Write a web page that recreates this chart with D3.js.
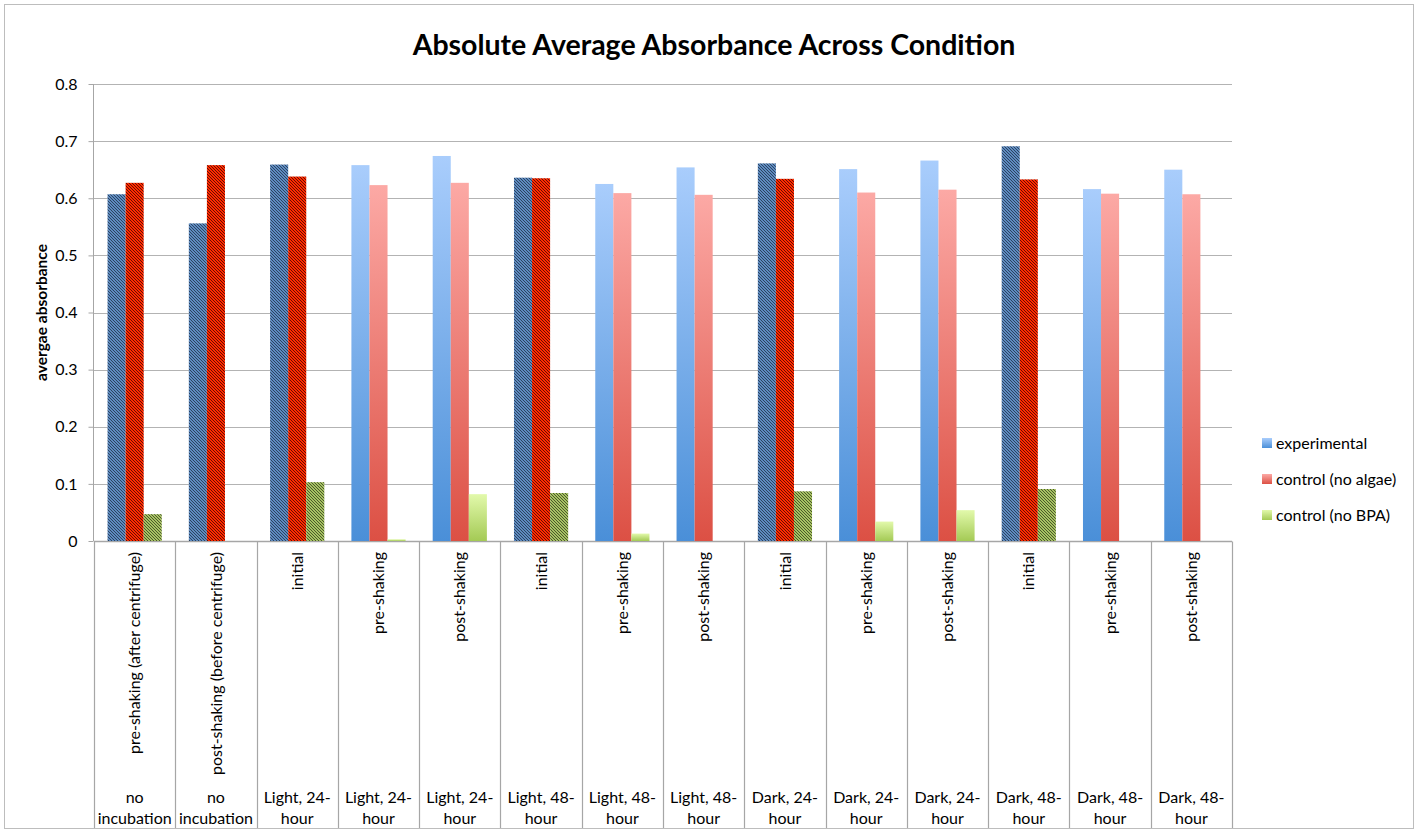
<!DOCTYPE html>
<html>
<head>
<meta charset="utf-8">
<script src="https://cdn.jsdelivr.net/npm/d3@7/dist/d3.min.js"></script>
<style>
  body { margin: 0; background: #fff; }
  svg { display: block; font-family: Lato, "Open Sans", sans-serif; }
</style>
</head>
<body>
<svg id="chart" width="1418" height="833"></svg>
<script>
// chart values
const innerLabels = ["pre-shaking (after centrifuge)", "post-shaking (before centrifuge)", "initial", "pre-shaking", "post-shaking",
  "initial", "pre-shaking", "post-shaking", "initial", "pre-shaking", "post-shaking", "initial", "pre-shaking", "post-shaking"];
const outerLabels = [["no", "incubation"], ["no", "incubation"],
  ["Light, 24-", "hour"], ["Light, 24-", "hour"], ["Light, 24-", "hour"],
  ["Light, 48-", "hour"], ["Light, 48-", "hour"], ["Light, 48-", "hour"],
  ["Dark, 24-", "hour"], ["Dark, 24-", "hour"], ["Dark, 24-", "hour"],
  ["Dark, 48-", "hour"], ["Dark, 48-", "hour"], ["Dark, 48-", "hour"]];
const seriesNames = ["experimental", "control (no algae)", "control (no BPA)"];
const experimental = [0.607, 0.556, 0.659, 0.658, 0.674, 0.636, 0.625, 0.654, 0.661, 0.651, 0.666, 0.691, 0.616, 0.650];
const controlNoAlgae = [0.627, 0.658, 0.638, 0.623, 0.627, 0.635, 0.609, 0.606, 0.634, 0.610, 0.615, 0.633, 0.608, 0.607];
const controlNoBPA = [0.047, null, 0.103, 0.003, 0.082, 0.084, 0.013, null, 0.087, 0.034, 0.054, 0.091, null, null];
const yTicks = [0, 0.1, 0.2, 0.3, 0.4, 0.5, 0.6, 0.7, 0.8];

const svg = d3.select("#chart");
const margin = { top: 84, right: 186, bottom: 292, left: 94 };
const width = 1418, height = 833;

// outer frame
svg.append("rect")
  .attr("x", 4.5).attr("y", 4.5)
  .attr("width", width - 9).attr("height", height - 9)
  .attr("fill", "#fff").attr("stroke", "#bdbdbd");

const x = d3.scaleBand()
  .domain(d3.range(innerLabels.length))
  .range([margin.left, width - margin.right]);

const x1 = d3.scaleBand()
  .domain(seriesNames)
  .range([0, x.bandwidth()])
  .paddingOuter(0.75);

const y = d3.scaleLinear()
  .domain([0, 0.8])
  .range([height - margin.bottom, margin.top]);

// fills: gradient and hatched versions
const defs = svg.append("defs");
const gradColors = [["#a9cdfc", "#4a8fd8"], ["#fca9a5", "#dc5044"], ["#e2f9ab", "#a4ca55"]];
const hatchColors = [["#5e8bc0", "#223650"], ["#ff2a00", "#4a0a00"], ["#a6c163", "#3a4620"]];
seriesNames.forEach((s, i) => {
  const g = defs.append("linearGradient")
    .attr("id", "grad" + i)
    .attr("x1", 0).attr("y1", 0).attr("x2", 0).attr("y2", 1);
  g.append("stop").attr("offset", "0%").attr("stop-color", gradColors[i][0]);
  g.append("stop").attr("offset", "100%").attr("stop-color", gradColors[i][1]);

  const p = defs.append("pattern")
    .attr("id", "hatch" + i)
    .attr("patternUnits", "userSpaceOnUse")
    .attr("width", 3).attr("height", 3);
  p.append("rect").attr("width", 3).attr("height", 3).attr("fill", hatchColors[i][0]);
  p.append("path")
    .attr("d", "M-1,-1 L4,4 M-1,2 L1,4 M2,-1 L4,1")
    .attr("stroke", hatchColors[i][1])
    .attr("stroke-width", 0.85);
});

// gridlines
svg.append("g")
  .selectAll("line")
  .data(yTicks.filter(d => d > 0))
  .join("line")
  .attr("x1", margin.left).attr("x2", width - margin.right)
  .attr("y1", d => Math.round(y(d)) + 0.5).attr("y2", d => Math.round(y(d)) + 0.5)
  .attr("stroke", "#b3b3b3").attr("stroke-width", 1.2);

// y axis
const yAxis = svg.append("g")
  .attr("transform", `translate(${margin.left - 0.5},0)`)
  .call(d3.axisLeft(y).tickValues(yTicks).tickSize(5).tickPadding(11).tickFormat(d => d === 0 ? "0" : d3.format(".1f")(d)));
yAxis.selectAll("path, line").attr("stroke", "#a6a6a6");
yAxis.select(".domain").attr("d", `M0,${y(0.8)}V${y(0)}`);
yAxis.selectAll("text").attr("font-size", 16).attr("fill", "#000").attr("font-family", "Lato, sans-serif");

svg.append("text")
  .attr("transform", `translate(42,${(y(0) + y(0.8)) / 2}) rotate(-90)`)
  .attr("text-anchor", "middle")
  .attr("dy", "0.35em")
  .attr("font-size", 15.5)
  .attr("font-weight", "bold")
  .text("avergae absorbance");

// x axis: baseline and long category dividers
const base = Math.round(y(0)) + 0.5;
svg.append("line")
  .attr("x1", margin.left).attr("x2", width - margin.right)
  .attr("y1", base).attr("y2", base)
  .attr("stroke", "#a6a6a6").attr("stroke-width", 1.5);
svg.append("g")
  .selectAll("line")
  .data(d3.range(innerLabels.length + 1))
  .join("line")
  .attr("x1", d => Math.round(d < innerLabels.length ? x(d) : x(d - 1) + x.bandwidth()) + 0.5)
  .attr("x2", d => Math.round(d < innerLabels.length ? x(d) : x(d - 1) + x.bandwidth()) + 0.5)
  .attr("y1", base).attr("y2", height - 5)
  .attr("stroke", "#a6a6a6").attr("stroke-width", 1.2);

// bars
const series = [experimental, controlNoAlgae, controlNoBPA];
const isHatched = i => outerLabels[i][0] === "no" || innerLabels[i] === "initial";
const barData = [];
innerLabels.forEach((lab, i) => {
  series.forEach((vals, s) => {
    if (vals[i] != null) barData.push({ i, s, v: vals[i] });
  });
});
svg.append("g")
  .selectAll("rect")
  .data(barData)
  .join("rect")
  .attr("x", d => x(d.i) + x1(seriesNames[d.s]))
  .attr("width", x1.bandwidth())
  .attr("y", d => y(d.v))
  .attr("height", d => y(0) - y(d.v))
  .attr("fill", d => isHatched(d.i) ? `url(#hatch${d.s})` : `url(#grad${d.s})`);

// inner (rotated) category labels
svg.append("g")
  .selectAll("text")
  .data(innerLabels)
  .join("text")
  .attr("transform", (d, i) => `translate(${x(i) + x.bandwidth() / 2},552) rotate(-90)`)
  .attr("text-anchor", "end")
  .attr("dy", "0.35em")
  .attr("font-size", 16)
  .text(d => d);

// outer category labels
const outer = svg.append("g")
  .selectAll("text")
  .data(outerLabels)
  .join("text")
  .attr("text-anchor", "middle")
  .attr("font-size", 16)
  .attr("x", (d, i) => x(i) + x.bandwidth() / 2)
  .attr("y", 803);
outer.selectAll("tspan")
  .data(d => d)
  .join("tspan")
  .attr("x", function () { return d3.select(this.parentNode).attr("x"); })
  .attr("dy", (d, j) => j === 0 ? 0 : 21)
  .text(d => d);

// title
svg.append("text")
  .attr("x", 714).attr("y", 55)
  .attr("text-anchor", "middle")
  .attr("font-size", 28.5)
  .attr("font-weight", "bold")
  .text("Absolute Average Absorbance Across Condition");

// legend
const legend = svg.append("g").attr("transform", "translate(1262,443)");
const li = legend.selectAll("g")
  .data(seriesNames)
  .join("g")
  .attr("transform", (d, i) => `translate(0,${i * 36})`);
li.append("rect")
  .attr("x", 0).attr("y", -5)
  .attr("width", 10).attr("height", 10)
  .attr("fill", (d, i) => `url(#grad${i})`);
li.append("text")
  .attr("x", 14).attr("dy", "0.35em")
  .attr("font-size", 16)
  .text(d => d);
</script>
</body>
</html>
